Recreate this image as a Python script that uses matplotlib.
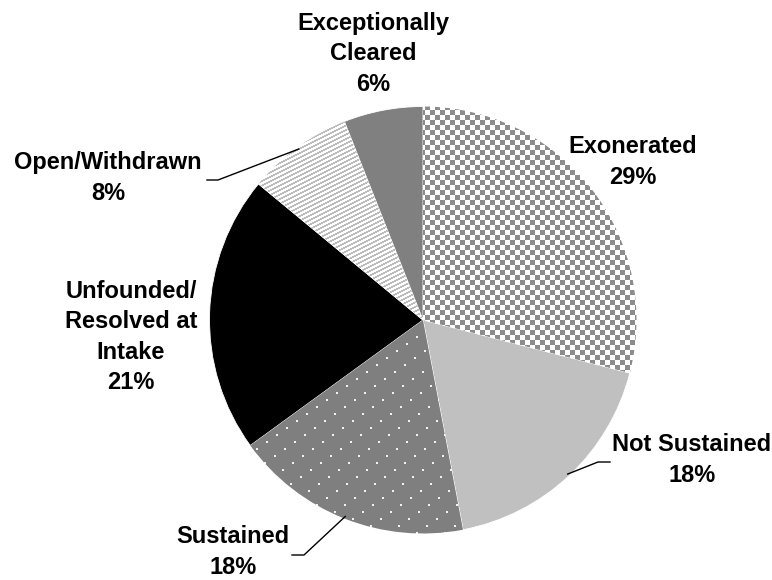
import numpy as np
import matplotlib
matplotlib.use("Agg")
import matplotlib.pyplot as plt

# data
categories = ["Exonerated", "Not Sustained", "Sustained",
              "Unfounded/\nResolved at\nIntake", "Open/Withdrawn",
              "Exceptionally\nCleared"]
shares = [29, 18, 18, 21, 8, 6]
pct_labels = ["29%", "18%", "18%", "21%", "8%", "6%"]

W, H = 772, 580
fig = plt.figure(figsize=(W / 100, H / 100), dpi=100)
ax = fig.add_axes([0, 0, 1, 1])

# pie centre and radius in pixels
cx, cy, r = 423, 320, 213.5


def px(x, y):
    return (x - cx) / r, (cy - y) / r


fills = ["white", "#c0c0c0", "white", "black", "white", "#808080"]
wedges, _ = ax.pie(shares, startangle=90, counterclock=False, colors=fills,
                   wedgeprops=dict(linewidth=0.6, edgecolor="white"))
ax.set_aspect("auto")
xlim = ((0 - cx) / r, (W - cx) / r)
ylim = ((cy - H) / r, cy / r)

# --- textures (pixel patterns clipped to wedges) ---
Y, X = np.mgrid[0:H, 0:W]
ones = np.ones(3)
checker = np.where(((X // 5 + Y // 5) % 2 == 0)[..., None], 0.55, 1.0) * ones
row = Y // 7
dots = (Y % 7 < 2) & ((X + 10 * row) % 28 < 2)
dotted = np.where(dots[..., None], 0.95, 0.5) * ones
stripes = np.where(((0.5 * X + Y) % 4.5 < 2)[..., None], 0.74, 1.0) * ones

for idx, tex in [(0, checker), (2, dotted), (4, stripes)]:
    im = ax.imshow(tex, extent=(xlim[0], xlim[1], ylim[0], ylim[1]),
                   origin="upper", interpolation="nearest", aspect="auto",
                   zorder=1.5)
    im.set_clip_path(wedges[idx])

# --- labels ---
label_px = [(633, 162), (692, 460), (233, 552), (131, 337), (108, 178), (373, 54)]
for cat, pct, (lx, ly) in zip(categories, pct_labels, label_px):
    x, y = px(lx, ly)
    ax.text(x, y, f"{cat}\n{pct}", ha="center", va="center", fontsize=17,
            fontweight="bold", family="Liberation Sans", linespacing=1.4)

# leader lines: label end, elbow, then wedge rim at mid angle
leaders = {4: [(207, 180), (218, 180)], 1: [(610, 462), (598, 462)],
           2: [(292, 555), (304, 555)]}
for idx, pts in leaders.items():
    w = wedges[idx]
    mid = np.deg2rad((w.theta1 + w.theta2) / 2)
    xs = [px(*p)[0] for p in pts] + [0.99 * np.cos(mid)]
    ys = [px(*p)[1] for p in pts] + [0.99 * np.sin(mid)]
    ax.plot(xs, ys, color="black", lw=1, zorder=3)

ax.set_xlim(xlim)
ax.set_ylim(ylim)
ax.axis("off")
fig.savefig("out.png", dpi=100)
